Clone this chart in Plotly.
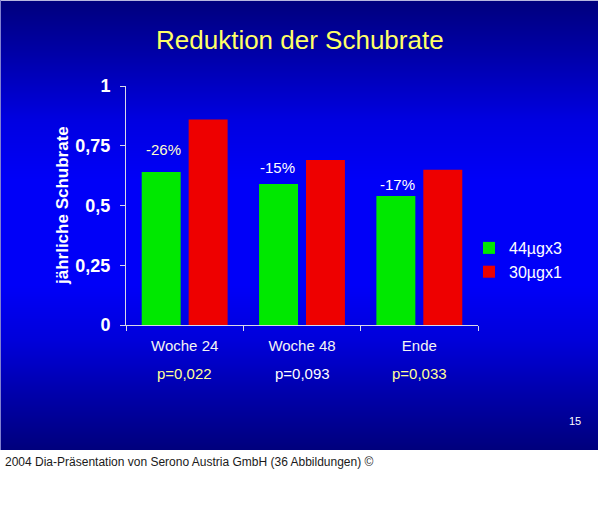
import base64, struct, zlib
import plotly.graph_objects as go

# ---- data ----
categories = ["Woche 24", "Woche 48", "Ende"]
series_names = ["44µgx3", "30µgx1"]
values_44 = [0.64, 0.59, 0.54]
values_30 = [0.86, 0.69, 0.65]
reduction_labels = ["-26%", "-15%", "-17%"]
p_values = ["p=0,022", "p=0,093", "p=0,033"]
y_ticks = [0, 0.25, 0.5, 0.75, 1]

# ---- styles / positions ----
reduction_label_y = [0.736, 0.661, 0.586]
reduction_label_xshift = [-21, -25, -22]
reduction_label_colors = ["#ffffcc", "#ffffff", "#ffffff"]
p_colors = ["#ffff99", "#ffffff", "#ffff99"]

W, H = 600, 512
SLIDE_W, SLIDE_H = 598, 450


def gradient_png(height, stops):
    rows = []
    for y in range(height):
        for i in range(len(stops) - 1):
            y0, c0 = stops[i]
            y1, c1 = stops[i + 1]
            if y0 <= y <= y1:
                t = (y - y0) / (y1 - y0) if y1 > y0 else 0
                c = [round(a + (b - a) * t) for a, b in zip(c0, c1)]
                break
        rows.append(b"\x00" + bytes(c))
    raw = b"".join(rows)

    def chunk(tag, data):
        return (struct.pack(">I", len(data)) + tag + data +
                struct.pack(">I", zlib.crc32(tag + data) & 0xffffffff))

    png = b"\x89PNG\r\n\x1a\n"
    png += chunk(b"IHDR", struct.pack(">IIBBBBB", 1, height, 8, 2, 0, 0, 0))
    png += chunk(b"IDAT", zlib.compress(raw, 9))
    png += chunk(b"IEND", b"")
    return "data:image/png;base64," + base64.b64encode(png).decode()


bg_src = gradient_png(SLIDE_H, [
    (0, (0, 0, 125)), (50, (0, 0, 165)), (120, (0, 0, 225)),
    (180, (0, 0, 248)), (285, (0, 0, 248)), (340, (0, 0, 218)),
    (400, (0, 0, 165)), (449, (0, 0, 125)),
])

FONT = "Liberation Sans, Arial, sans-serif"

fig = go.Figure()
fig.add_trace(go.Bar(x=categories, y=values_44, name=series_names[0],
                     marker=dict(color="#00e800", line=dict(width=0))))
fig.add_trace(go.Bar(x=categories, y=values_30, name=series_names[1],
                     marker=dict(color="#ee0000", line=dict(width=0))))


def ann(**kw):
    d = dict(showarrow=False, xanchor="center", yanchor="middle")
    d.update(kw)
    return d


annotations = []
for cat, lab, ly, xs, col in zip(categories, reduction_labels, reduction_label_y,
                                 reduction_label_xshift, reduction_label_colors):
    annotations.append(ann(x=cat, y=ly, xref="x", yref="y", text=lab, xshift=xs,
                           font=dict(family=FONT, size=15, color=col)))
for cat, p, col in zip(categories, p_values, p_colors):
    annotations.append(ann(x=cat, y=(H - 373) / H, xref="x", yref="paper", text=p,
                           font=dict(family=FONT, size=15, color=col)))
annotations += [
    ann(x=300 / W, y=(H - 40) / H, xref="paper", yref="paper",
        text="Reduktion der Schubrate",
        font=dict(family=FONT, size=26, color="#ffff66")),
    ann(x=62 / W, y=(H - 206) / H, xref="paper", yref="paper", textangle=-90,
        text="<b>jährliche Schubrate</b>",
        font=dict(family=FONT, size=17, color="#ffffff")),
    ann(x=575 / W, y=(H - 421) / H, xref="paper", yref="paper", text="15",
        font=dict(family=FONT, size=11, color="#ffffff")),
    ann(x=3 / W, y=(H - 462) / H, xref="paper", yref="paper", xanchor="left",
        text="2004 Dia-Präsentation von Serono Austria GmbH (36 Abbildungen) ©",
        font=dict(family=FONT, size=12, color="#1a1a1a")),
]

fig.update_layout(
    width=W, height=H,
    margin=dict(l=0, r=0, t=0, b=0, autoexpand=False),
    paper_bgcolor="#ffffff",
    plot_bgcolor="rgba(0,0,0,0)",
    separators=",.",
    barmode="group", bargap=0.2, bargroupgap=0.17,
    font=dict(family=FONT, color="#ffffff"),
    images=[dict(source=bg_src, xref="paper", yref="paper", x=0, y=1,
                 sizex=SLIDE_W / W, sizey=SLIDE_H / H, sizing="stretch",
                 xanchor="left", yanchor="top", layer="below")],
    shapes=[
        dict(type="line", xref="paper", yref="paper", x0=0, x1=SLIDE_W / W,
             y0=1 - 0.5 / H, y1=1 - 0.5 / H, line=dict(color="#b8b8e0", width=1)),
        dict(type="line", xref="paper", yref="paper", x0=0.5 / W, x1=0.5 / W,
             y0=1, y1=1 - SLIDE_H / H, line=dict(color="#8080d0", width=1)),
    ],
    xaxis=dict(domain=[126 / W, 478 / W], showline=True, linecolor="#d8d8e8",
               linewidth=1, ticks="outside", tickson="boundaries", ticklen=5,
               tickcolor="#d8d8e8", showgrid=False, zeroline=False, automargin=False,
               tickfont=dict(family=FONT, size=15, color="#f4f4f4"),
               ticklabelstandoff=7),
    yaxis=dict(domain=[(H - 325) / H, (H - 86) / H], range=[0, 1],
               tickvals=y_ticks, showline=True, linecolor="#d8d8e8", linewidth=1,
               ticks="outside", ticklen=5, tickcolor="#d8d8e8", showgrid=False,
               zeroline=False, automargin=False,
               tickfont=dict(family=FONT, size=18, color="#ffffff", weight="bold"),
               ticklabelstandoff=6),
    legend=dict(x=469 / W, y=(H - 231) / H, xanchor="left", yanchor="top",
                bgcolor="rgba(0,0,0,0)", font=dict(family=FONT, size=16, color="#ffffff"),
                itemwidth=30, tracegroupgap=0),
    annotations=annotations,
)

fig.write_html("out.html")
